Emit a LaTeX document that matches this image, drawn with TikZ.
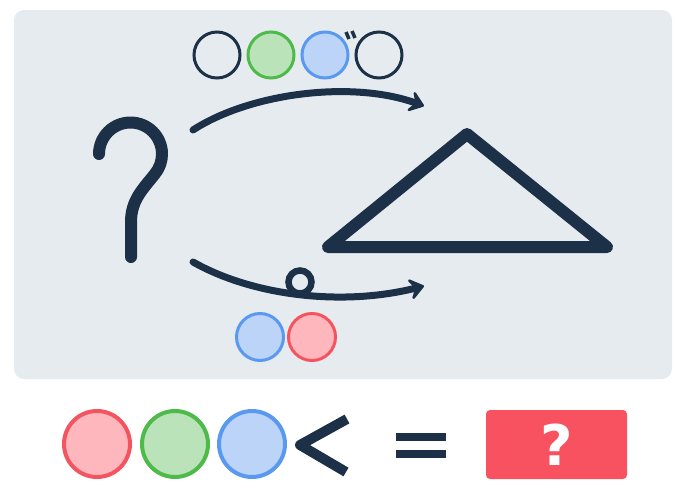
\documentclass[tikz,border=0pt]{standalone}
\usepackage{fontspec}
\usetikzlibrary{arrows.meta}
\definecolor{navy}{RGB}{28,49,72}
\definecolor{panel}{RGB}{230,235,239}
\definecolor{gfill}{RGB}{186,227,186}
\definecolor{gline}{RGB}{78,186,74}
\definecolor{bfill}{RGB}{187,212,248}
\definecolor{bline}{RGB}{90,153,240}
\definecolor{rfill}{RGB}{255,183,190}
\definecolor{rline}{RGB}{244,84,96}
\definecolor{boxred}{RGB}{248,82,96}
\newfontfamily\qfont{DejaVu Sans}
\tikzset{
  blank/.style={circle,draw=navy,line width=3pt,minimum size=46pt,inner sep=0pt,fill=panel},
  gdot/.style={circle,draw=gline,fill=gfill,line width=3pt,minimum size=46pt,inner sep=0pt},
  bdot/.style={circle,draw=bline,fill=bfill,line width=3pt,minimum size=46pt,inner sep=0pt},
  rdot/.style={circle,draw=rline,fill=rfill,line width=3pt,minimum size=46pt,inner sep=0pt},
  big/.style={line width=4pt,minimum size=66pt},
  stroke/.style={draw=navy,line width=12pt,line cap=round,line join=round},
  curvearrow/.style={draw=navy,line width=7pt,line cap=round,
    -{Stealth[length=18pt,width=27pt,inset=8pt,line width=2.5pt,round]}},
}
\begin{document}
\begin{tikzpicture}[x=1pt,y=-1pt]
\useasboundingbox (0,0) rectangle (685,490);
% panel
\fill[panel,rounded corners=10pt] (14,10) rectangle (672,379);
% top row of circles
\node[blank] (t1) at (217,55) {};
\node[gdot]  (t2) at (271,55) {};
\node[bdot]  (t3) at (325,55) {};
\node[blank] (t4) at (379,55) {};
% dakuten
\draw[navy,line width=3.5pt] (346,32) -- (349,39);
\draw[navy,line width=3.5pt] (352,31) -- (355,38);
% big question mark
\coordinate (qs) at (99,154);
\draw[stroke] (qs) arc[start angle=180,end angle=400,radius=31.5]
  .. controls (143,189) and (131,200) .. (131,222) -- (131,257);
% triangle
\coordinate (ta) at (467,134);
\coordinate (tl) at (328,247);
\coordinate (tr) at (607,247);
\draw[stroke] (ta) -- (tr) -- (tl) -- cycle;
% arrows
\coordinate (ua) at (193,130);
\coordinate (ub) at (424,106);
\draw[curvearrow] (ua) .. controls (250,93) and (352,80) .. (ub);
\coordinate (la) at (193,262);
\coordinate (lb) at (424,286);
\draw[curvearrow] (la) .. controls (255,297) and (345,306) .. (lb);
\node[circle,draw=navy,line width=6.5pt,fill=panel,minimum size=23pt,inner sep=0pt] (ring) at (300,282) {};
% lower small circles
\node[bdot,minimum size=47pt] (l1) at (260,337) {};
\node[rdot,minimum size=47pt] (l2) at (312,337) {};
% bottom row
\node[rdot,big] (b1) at (97,444) {};
\node[gdot,big] (b2) at (175,444) {};
\node[bdot,big] (b3) at (252,444) {};
\coordinate (ku1) at (347,419);
\coordinate (ku2) at (300,445);
\coordinate (ku3) at (346,472);
\draw[navy,line width=10pt,line join=round] (ku1) -- (ku2) -- (ku3);
\fill[navy] (396,432.5) rectangle (446,440.5);
\fill[navy] (396,450) rectangle (446,458);
\node[fill=boxred,rounded corners=4pt,minimum width=141pt,minimum height=69pt,inner sep=0pt,
  text=white,font=\qfont\bfseries\fontsize{56}{56}\selectfont] (ans) at (556.5,444.5) {?};
\end{tikzpicture}
\end{document}
